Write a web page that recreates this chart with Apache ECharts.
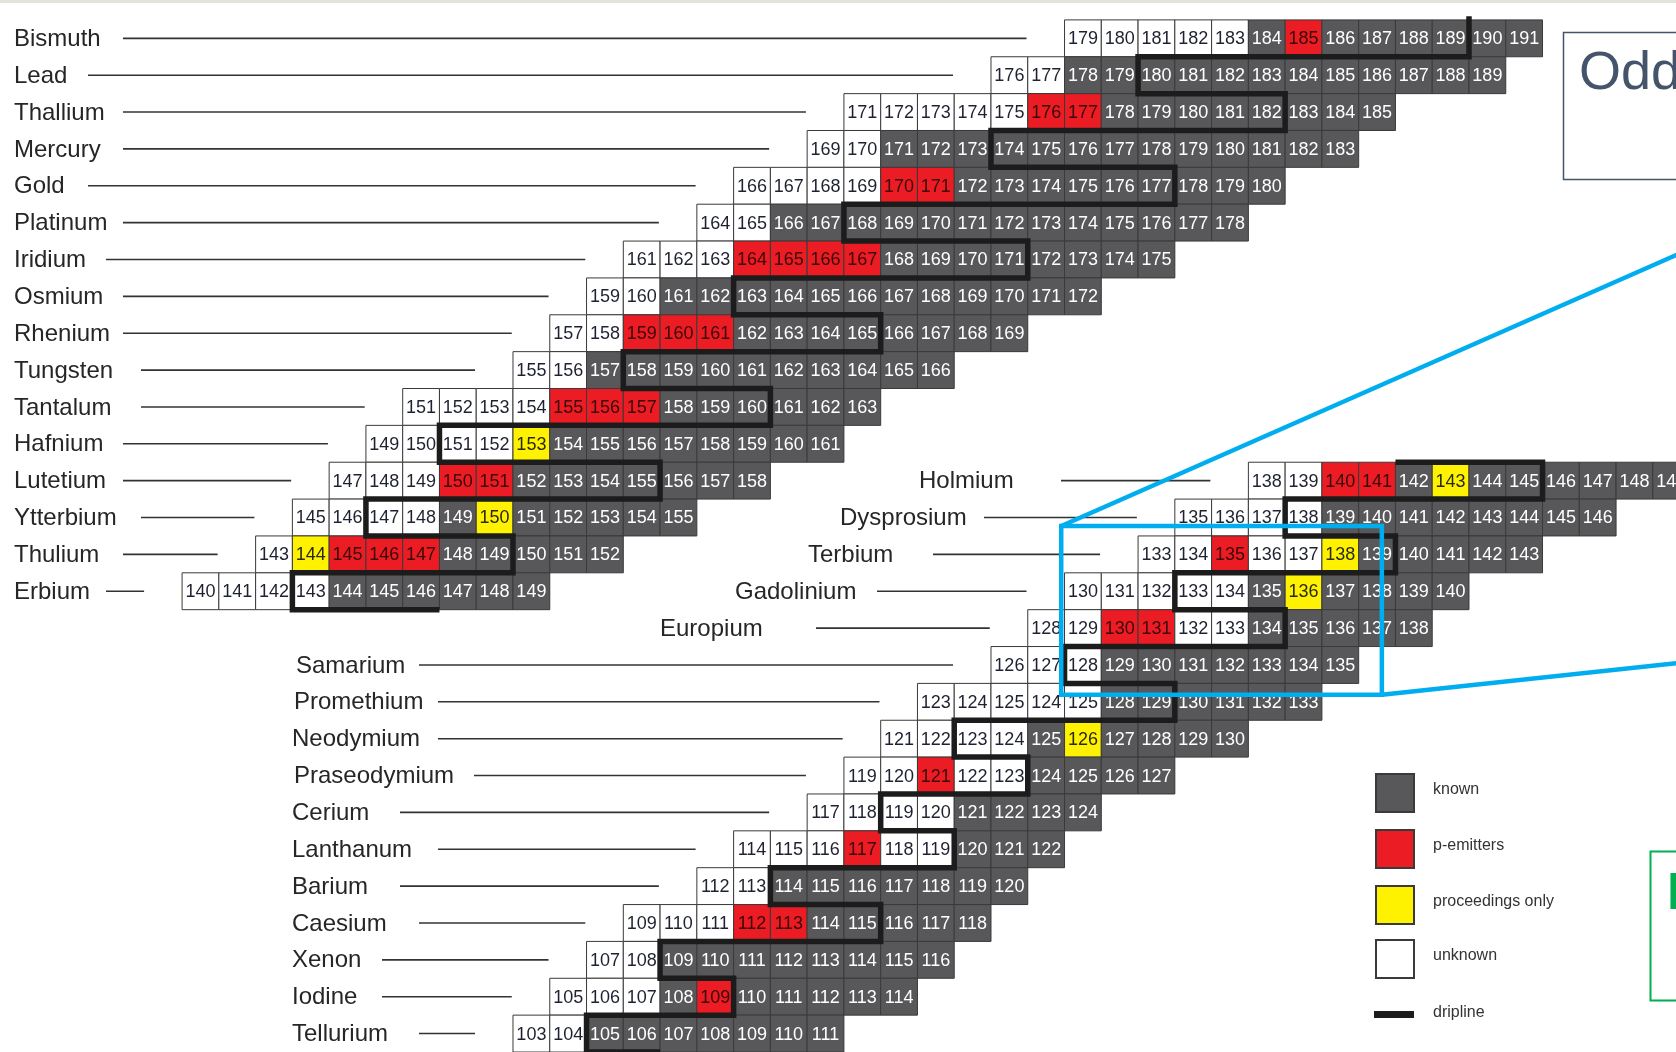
<!DOCTYPE html>
<html>
<head>
<meta charset="utf-8">
<script src="https://cdn.jsdelivr.net/npm/echarts@6/dist/echarts.min.js"></script>
<style>
  html, body { margin: 0; padding: 0; background: #ffffff; }
  #chart { width: 1676px; height: 1052px; }
</style>
</head>
<body>
<div id="chart"></div>
<script>
// ---- Nuclide data: one row per element ----
const elements = ['Bismuth','Lead','Thallium','Mercury','Gold','Platinum','Iridium','Osmium','Rhenium','Tungsten',
  'Tantalum','Hafnium','Lutetium','Ytterbium','Thulium','Erbium',
  'Holmium','Dysprosium','Terbium','Gadolinium','Europium','Samarium','Promethium','Neodymium','Praseodymium',
  'Cerium','Lanthanum','Barium','Caesium','Xenon','Iodine','Tellurium'];
const protonNumbers = [83,82,81,80,79,78,77,76,75,74,73,72,71,70,69,68,
  67,66,65,64,63,62,61,60,59,58,57,56,55,54,53,52];
const firstMass = [179,176,171,169,166,164,161,159,157,155,151,149,147,145,143,140,
  138,135,133,130,128,126,123,121,119,117,114,112,109,107,105,103];
// U = unknown, K = known, P = p-emitter, Y = proceedings only (one letter per isotope, lightest first)
const isotopeStatus = [
  'UUUUUKPKKKKKK', 'UUKKKKKKKKKKKK', 'UUUUUPPKKKKKKKK', 'UUKKKKKKKKKKKKK',
  'UUUUPPKKKKKKKKK', 'UUKKKKKKKKKKKKK', 'UUUPPPPKKKKKKKK', 'UUKKKKKKKKKKKK',
  'UUPPPKKKKKKKK', 'UUKKKKKKKKKK', 'UUUUPPPKKKKKK', 'UUUUYKKKKKKKK',
  'UUUPPKKKKKKK', 'UUUUKYKKKKK', 'UYPPPKKKKK', 'UUUUKKKKKK',
  'UUPPKYKKKKKK', 'UUUUKKKKKKKK', 'UUPUUYKKKKK', 'UUUUUKYKKKK',
  'UUPPUUKKKKK', 'UUUKKKKKKK', 'UUUUUKKKKKK', 'UUUUKYKKKK',
  'UUPUUKKKK', 'UUUUKKKK', 'UUUPUUKKK', 'UUKKKKKKK',
  'UUUPPKKKKK', 'UUKKKKKKKK', 'UUUKPKKKKK', 'UUKKKKKKK'
];
// mass labels printed differently from the running sequence
const massLabelOverrides = {
  Promethium: [123,124,125,124,125,128,129,130,131,132,133]
};
// proton dripline corners as [N, Z] cell edges
const driplineHeavy = [
  [106.5,83.6],[106.5,82.5],[97.5,82.5],[97.5,81.5],[101.5,81.5],[101.5,80.5],[93.5,80.5],[93.5,79.5],
  [98.5,79.5],[98.5,78.5],[89.5,78.5],[89.5,77.5],[94.5,77.5],[94.5,76.5],[86.5,76.5],[86.5,75.5],
  [90.5,75.5],[90.5,74.5],[83.5,74.5],[83.5,73.5],[87.5,73.5],[87.5,72.5],[78.5,72.5],[78.5,71.5],
  [84.5,71.5],[84.5,70.5],[76.5,70.5],[76.5,69.5],[80.5,69.5],[80.5,68.5],[74.5,68.5],[74.5,67.5],[78.5,67.5]
];
const driplineLight = [
  [74.5,67.5],[78.5,67.5],[78.5,66.5],[71.5,66.5],[71.5,65.5],[74.5,65.5],[74.5,64.5],[68.5,64.5],
  [68.5,63.5],[71.5,63.5],[71.5,62.5],[65.5,62.5],[65.5,61.5],[68.5,61.5],[68.5,60.5],[62.5,60.5],
  [62.5,59.5],[64.5,59.5],[64.5,58.5],[60.5,58.5],[60.5,57.5],[62.5,57.5],[62.5,56.5],[57.5,56.5],
  [57.5,55.5],[60.5,55.5],[60.5,54.5],[54.5,54.5],[54.5,53.5],[56.5,53.5],[56.5,52.5],[52.5,52.5],
  [52.5,51.5],[54.5,51.5]
];
const legendLabels = ['known', 'p-emitters', 'proceedings only', 'unknown', 'dripline'];

// ---- Layout (pixels) ----
const labelLeft = [14,14,14,14,14,14,14,14,14,14,14,14,14,14,14,14,
  919,840,808,735,660,296,294,292,294,292,292,292,292,292,292,292];
const leaderStart = [123,88,123,123,88,123,106,123,123,141,141,123,123,141,123,106,
  1061,984,933,877,816,419,438,438,474,400,438,400,419,382,382,419];

const STATUS_STYLE = {
  U: { fill: '#ffffff', text: '#1e2230' },
  K: { fill: '#58585a', text: '#ffffff' },
  P: { fill: '#ec1c24', text: '#3a0808' },
  Y: { fill: '#fff200', text: '#2a2a10' }
};
const STATUS_CODES = ['U', 'K', 'P', 'Y'];

// Heavy elements (Z >= 68) sit in the upper band, shifted 30 neutrons left;
// the lighter ones sit 4 rows higher than their Z.
function toPlot(n, z, heavy) {
  return heavy ? [n - 30, z] : [n, z + 4];
}

const cellData = [];
const rowData = [];
elements.forEach((name, i) => {
  const z = protonNumbers[i];
  const heavy = z >= 68;
  const codes = isotopeStatus[i];
  const labels = massLabelOverrides[name];
  for (let k = 0; k < codes.length; k++) {
    const a = firstMass[i] + k;
    const p = toPlot(a - z, z, heavy);
    cellData.push([p[0], p[1], STATUS_CODES.indexOf(codes[k]), labels ? labels[k] : a]);
  }
  const p0 = toPlot(firstMass[i] - z, z, heavy);
  rowData.push([p0[0], p0[1], i]);
});

const dripHeavyPlot = driplineHeavy.map(d => toPlot(d[0], d[1], true));
const dripLightPlot = driplineLight.map(d => toPlot(d[0], d[1], false));

const chart = echarts.init(document.getElementById('chart'), null, { renderer: 'canvas' });

const legendColors = ['#58585a', '#ec1c24', '#fff200', '#ffffff'];
const legendGraphics = [];
const legendTops = [773, 829, 885, 939];
legendColors.forEach((c, i) => {
  legendGraphics.push({
    type: 'rect', left: 1375, top: legendTops[i], z: 10,
    shape: { width: 38, height: 38 },
    style: { fill: c, stroke: '#3a3a3a', lineWidth: 2 }
  });
});
legendGraphics.push({
  type: 'rect', left: 1374, top: 1011, z: 10,
  shape: { width: 40, height: 7 }, style: { fill: '#1c1c1c' }
});
const legendTextY = [792, 848, 904, 958, 1015];
legendLabels.forEach((t, i) => {
  legendGraphics.push({
    type: 'text', left: 1433, top: legendTextY[i] - 10, z: 10,
    style: { text: t, font: '16px "Liberation Sans", Arial, sans-serif', fill: '#333333' }
  });
});

chart.setOption({
  animation: false,
  backgroundColor: '#ffffff',
  grid: { left: 0, right: 0, top: 0, bottom: 0, containLabel: false },
  xAxis: { type: 'value', min: 36.548, max: 82.13, show: false },
  yAxis: { type: 'value', min: 55.5, max: 84.04, show: false },
  graphic: [
    { type: 'rect', left: 0, top: 0, z: 10, shape: { width: 1676, height: 3 }, style: { fill: '#e4e4dc' } },
    { type: 'rect', left: 1561, top: 30, z: 10, shape: { width: 200, height: 147 },
      style: { fill: 'none', stroke: '#44546a', lineWidth: 1.5 } },
    { type: 'text', left: 1579, top: 47, z: 10,
      style: { text: 'Odd', font: '54px "Liberation Sans", Arial, sans-serif', fill: '#44546a' } },
    { type: 'rect', left: 1648, top: 849, z: 10, shape: { width: 100, height: 149 },
      style: { fill: 'none', stroke: '#00b050', lineWidth: 2 } },
    { type: 'text', left: 1667, top: 869, z: 10,
      style: { text: 'E', font: 'bold 52px "Liberation Sans", Arial, sans-serif', fill: '#00b050' } }
  ].concat(legendGraphics),
  series: [
    {
      // isotope cells
      type: 'custom',
      coordinateSystem: 'cartesian2d',
      z: 2,
      data: cellData,
      encode: { x: 0, y: 1 },
      renderItem(params, api) {
        const x = api.value(0), y = api.value(1);
        const tl = api.coord([x - 0.5, y + 0.5]);
        const br = api.coord([x + 0.5, y - 0.5]);
        const st = STATUS_STYLE[STATUS_CODES[api.value(2)]];
        return {
          type: 'group',
          children: [
            { type: 'rect',
              shape: { x: tl[0], y: tl[1], width: br[0] - tl[0], height: br[1] - tl[1] },
              style: { fill: st.fill, stroke: '#3a3a3a', lineWidth: 1 } },
            { type: 'text',
              style: { text: String(api.value(3)), x: (tl[0] + br[0]) / 2, y: (tl[1] + br[1]) / 2 + 1,
                align: 'center', verticalAlign: 'middle',
                font: '18px "Liberation Sans", Arial, sans-serif', fill: st.text } }
          ]
        };
      }
    },
    {
      // element names with leader lines
      type: 'custom',
      coordinateSystem: 'cartesian2d',
      z: 2,
      data: rowData,
      encode: { x: 0, y: 1 },
      renderItem(params, api) {
        const i = api.value(2);
        const firstEdge = api.coord([api.value(0) - 0.5, api.value(1)]);
        const yc = firstEdge[1];
        return {
          type: 'group',
          children: [
            { type: 'text',
              style: { text: elements[i], x: labelLeft[i], y: yc + 1, align: 'left', verticalAlign: 'middle',
                font: '24px "Liberation Sans", Arial, sans-serif', fill: '#262626' } },
            { type: 'line',
              shape: { x1: leaderStart[i], y1: yc, x2: firstEdge[0] - 38, y2: yc },
              style: { stroke: '#333333', lineWidth: 1.6 } }
          ]
        };
      }
    },
    {
      type: 'line', z: 3, data: dripHeavyPlot, showSymbol: false, silent: true,
      lineStyle: { color: '#1c1c1c', width: 5.5, join: 'miter', cap: 'butt' }
    },
    {
      type: 'line', z: 3, data: dripLightPlot, showSymbol: false, silent: true,
      lineStyle: { color: '#1c1c1c', width: 5.5, join: 'miter', cap: 'butt' }
    },
    {
      // zoom frame around the Gd-Eu-Sm corner
      type: 'custom',
      coordinateSystem: 'cartesian2d',
      z: 4,
      data: [[65.41, 69.77, 74.13, 65.19]],
      renderItem(params, api) {
        const tl = api.coord([api.value(0), api.value(1)]);
        const br = api.coord([api.value(2), api.value(3)]);
        const edgeX = api.coord([82.2, 0])[0];
        const style = { stroke: '#00aeef', lineWidth: 4.5, fill: 'none' };
        return {
          type: 'group',
          children: [
            { type: 'rect', shape: { x: tl[0], y: tl[1], width: br[0] - tl[0], height: br[1] - tl[1] }, style },
            { type: 'line', shape: { x1: tl[0], y1: tl[1], x2: edgeX, y2: 254 }, style },
            { type: 'line', shape: { x1: br[0], y1: br[1], x2: edgeX, y2: 663 }, style }
          ]
        };
      }
    }
  ]
});
</script>
</body>
</html>
